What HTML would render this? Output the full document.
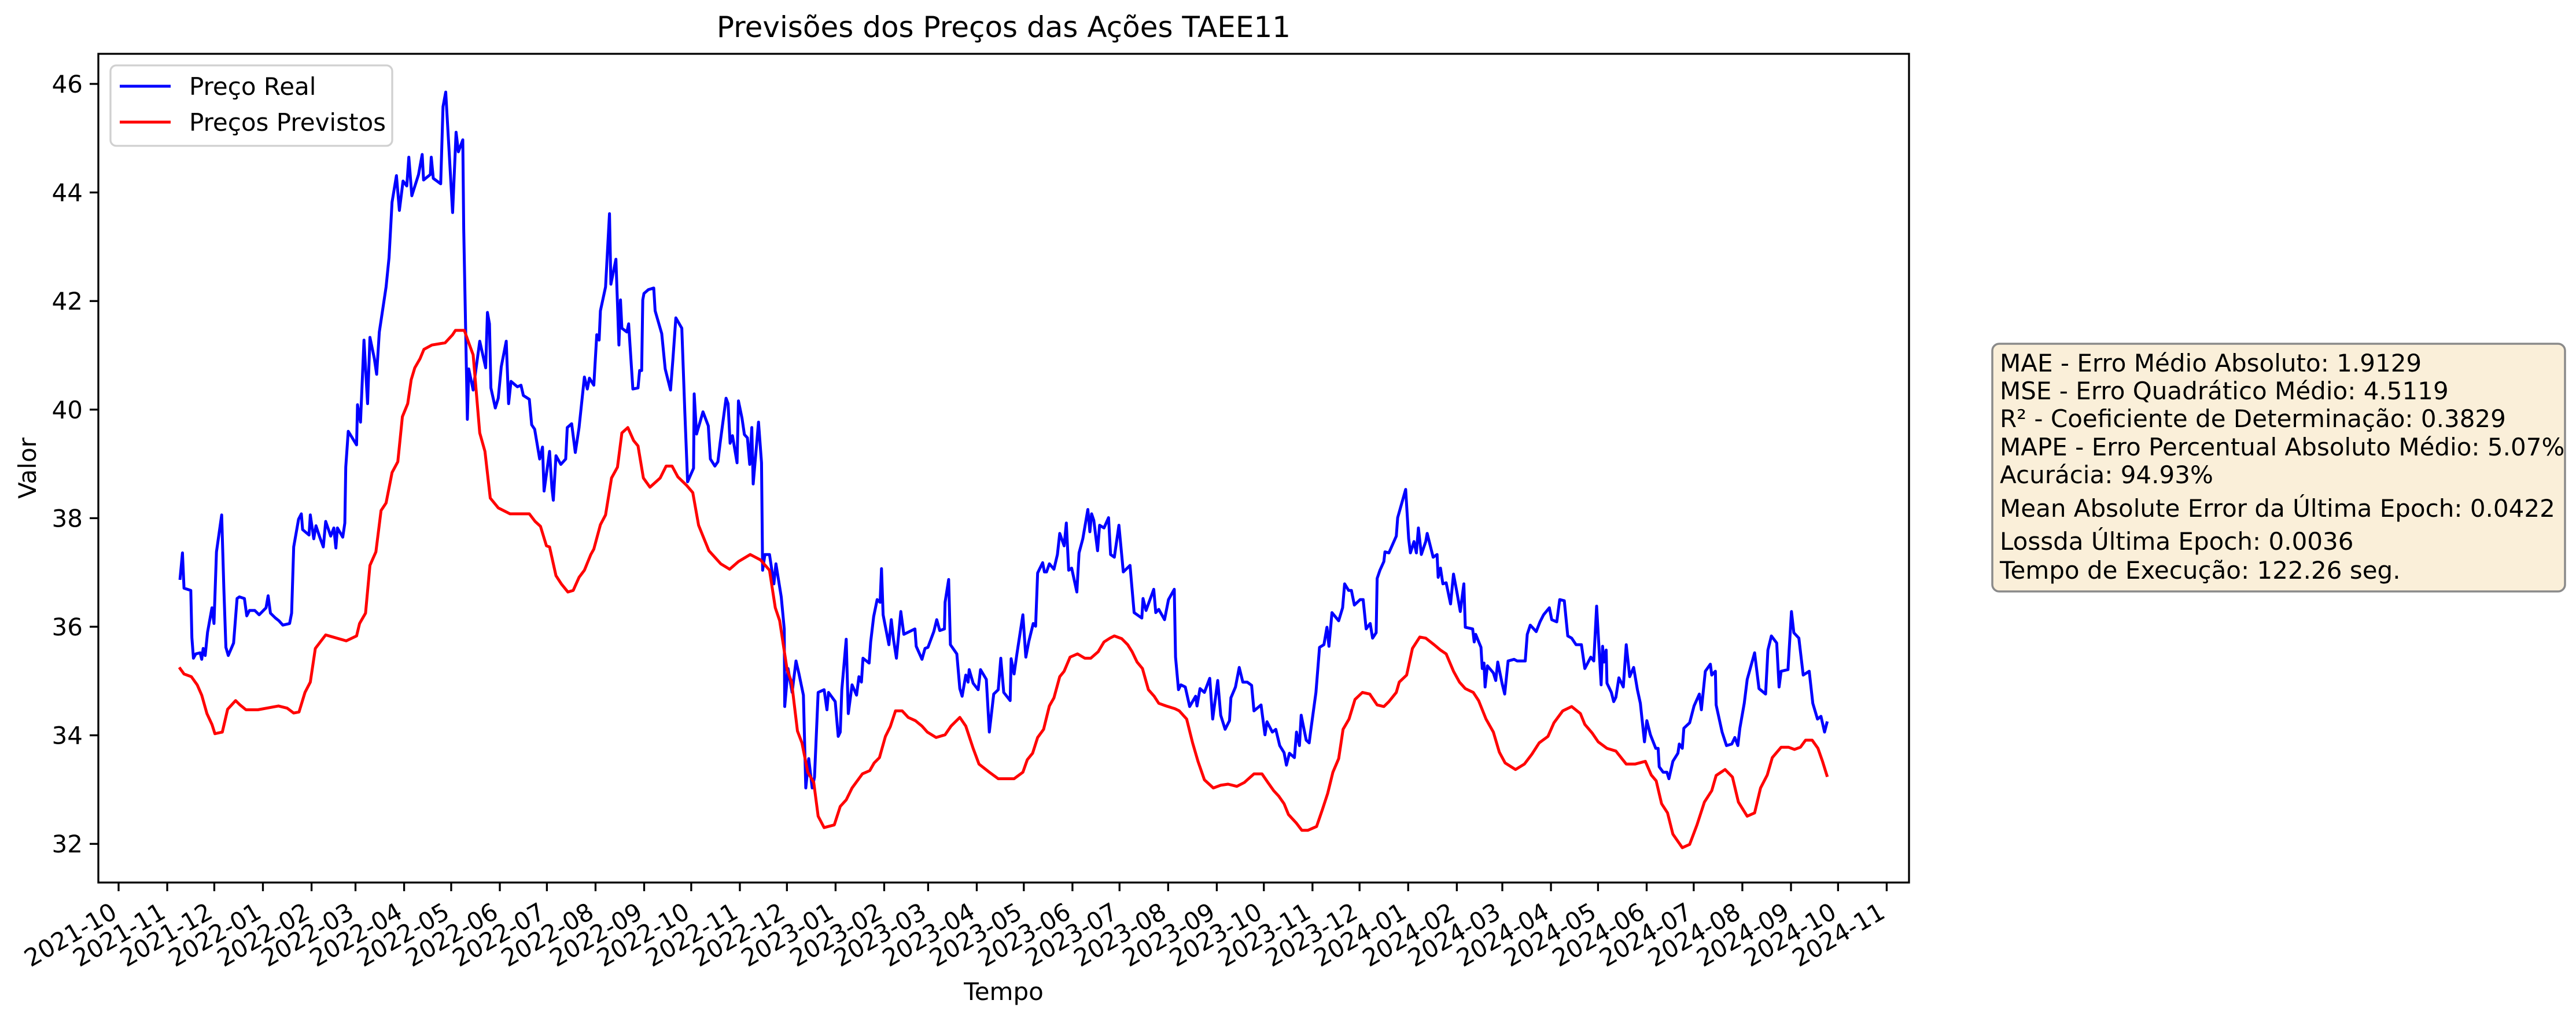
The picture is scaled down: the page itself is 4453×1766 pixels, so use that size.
<!DOCTYPE html>
<html><head><meta charset="utf-8"><style>
html,body{margin:0;padding:0;background:#fff;}
svg{display:block;font-family:"DejaVu Sans","Liberation Sans",sans-serif;}
</style></head><body>
<svg id="chart" xmlns="http://www.w3.org/2000/svg" width="4453" height="1766" viewBox="0 0 4453 1766">
<rect x="0" y="0" width="4453" height="1766" fill="#fff"/>
<text x="1735" y="64" font-size="50" text-anchor="middle">Previsões dos Preços das Ações TAEE11</text>
<g id="plot"></g>
<rect x="170" y="93" width="3130" height="1432" fill="none" stroke="#000" stroke-width="3.3"/>
<g id="yticks"></g>
<g id="xticks"></g>
<text x="1735" y="1728" font-size="42" text-anchor="middle">Tempo</text>
<text x="0" y="0" font-size="42" text-anchor="middle" transform="translate(62,809) rotate(-90)">Valor</text>
<g>
<rect x="191" y="113" width="487" height="139" rx="10" fill="#fff" fill-opacity="0.8" stroke="#d0d0d0" stroke-width="3.3"/>
<line x1="207" y1="149" x2="295" y2="149" stroke="#0000ff" stroke-width="5"/>
<text x="327" y="164" font-size="42">Preço Real</text>
<line x1="207" y1="211" x2="295" y2="211" stroke="#ff0000" stroke-width="5"/>
<text x="327" y="226" font-size="42">Preços Previstos</text>
</g>
<g font-size="42">
<rect x="3444" y="594" width="990" height="428" rx="12" fill="#faefd9" stroke="#8a8a8a" stroke-width="3.5"/>
<text x="3457" y="642">MAE - Erro Médio Absoluto: 1.9129</text>
<text x="3457" y="690">MSE - Erro Quadrático Médio: 4.5119</text>
<text x="3457" y="738">R² - Coeficiente de Determinação: 0.3829</text>
<text x="3457" y="787">MAPE - Erro Percentual Absoluto Médio: 5.07%</text>
<text x="3457" y="835">Acurácia: 94.93%</text>
<text x="3457" y="893">Mean Absolute Error da Última Epoch: 0.0422</text>
<text x="3457" y="950">Lossda Última Epoch: 0.0036</text>
<text x="3457" y="1000">Tempo de Execução: 122.26 seg.</text>
</g>
</svg>
<script>
// Day offsets are days since 2021-10-01
const baseDate = "2021-10-01";
const monthLabels = ["2021-10","2021-11","2021-12","2022-01","2022-02","2022-03","2022-04","2022-05","2022-06","2022-07","2022-08","2022-09","2022-10","2022-11","2022-12","2023-01","2023-02","2023-03","2023-04","2023-05","2023-06","2023-07","2023-08","2023-09","2023-10","2023-11","2023-12","2024-01","2024-02","2024-03","2024-04","2024-05","2024-06","2024-07","2024-08","2024-09","2024-10","2024-11"];
const yTickValues = [32,34,36,38,40,42,44,46];
const realDays = [39.2,40.7,41.7,46.0,46.7,47.7,49.2,52.0,53.0,53.9,55.2,56.7,59.5,60.8,62.4,65.7,67.1,68.4,69.9,73.3,75.5,77.0,80.2,81.7,83.4,86.8,89.6,94.0,95.3,96.8,100.0,102.2,104.7,109.0,110.3,111.6,114.7,116.5,117.3,121.4,122.2,124.4,125.8,128.2,130.5,132.0,135.2,137.2,138.5,139.5,142.9,144.2,144.8,146.4,151.7,152.3,154.2,156.4,158.7,160.2,163.0,164.5,166.2,167.7,170.5,172.4,174.3,177.1,179.0,181.3,183.7,185.0,186.9,191.2,193.5,194.4,198.7,199.3,200.6,205.3,206.8,208.5,212.9,215.1,216.6,219.4,220.0,222.3,223.2,226.0,230.2,234.0,235.1,236.4,237.3,240.1,242.0,243.9,247.1,248.6,250.1,254.2,256.5,258.0,261.8,263.3,265.2,268.4,270.2,271.2,
274.7,276.2,277.1,278.8,281.9,285.0,286.0,288.8,291.1,293.5,296.9,298.8,300.1,302.9,304.8,306.3,307.1,310.4,312.9,313.8,317.0,318.9,319.9,320.8,324.0,325.1,327.8,331.1,332.1,333.4,334.1,334.9,337.7,341.1,342.0,346.2,348.4,351.8,353.3,355.2,359.0,360.9,362.7,366.5,366.9,368.4,372.5,375.9,377.2,380.1,382.0,383.4,387.2,388.5,389.8,391.3,394.2,395.1,397.4,398.9,400.8,402.3,403.6,404.5,407.9,409.8,410.5,412.0,414.9,417.7,419.0,422.4,424.3,424.6,426.7,429.3,431.8,433.7,436.5,438.0,439.9,442.1,443.6,445.9,449.7,451.5,452.5,456.8,458.7,460.0,461.0,463.8,465.1,467.5,470.4,471.9,473.5,474.5,478.4,479.4,481.3,483.5,485.4,486.3,487.3,491.0,492.5,493.9,495.8,498.6,500.5,507.6,508.4,512.1,514.0,515.9,519.6,521.5,523.4,526.4,526.8,529.1,530.2,534.3,536.2,537.7,540.0,541.5,542.2,544.7,547.9,549.4,553.1,555.0,557.8,560.7,
562.3,564.2,568.3,568.9,570.8,572.6,576.4,578.3,580.2,583.0,584.5,585.8,589.0,590.1,591.5,593.3,596.2,598.4,599.9,602.7,604.1,605.6,607.5,610.8,612.2,614.6,617.8,619.1,620.2,621.6,624.0,625.3,628.1,631.0,632.3,634.7,637.6,640.4,644.7,647.3,652.2,653.0,654.9,659.8,661.1,663.0,666.7,669.2,672.9,673.7,675.6,677.1,679.9,682.7,686.5,687.4,689.3,692.1,695.5,697.4,700.6,702.5,705.3,708.1,709.0,711.9,714.3,716.6,719.4,722.2,723.7,728.2,730.7,732.0,735.4,737.6,740.1,742.9,744.4,746.3,749.5,750.8,752.7,753.8,757.0,758.9,759.8,763.2,765.5,768.3,770.2,771.5,773.4,777.7,780.2,781.5,784.0,785.8,787.7,791.4,793.3,795.2,797.8,799.3,801.6,802.2,804.0,806.5,807.2,809.7,814.4,815.3,820.4,822.3,823.4,825.7,827.2,828.5,830.4,833.2,834.1,837.9,840.4,841.1,842.6,844.1,
846.2,849.0,850.9,853.3,855.2,857.5,858.4,863.1,864.1,865.0,868.4,869.2,870.3,871.0,872.5,876.3,877.8,879.1,881.9,883.5,885.7,889.5,891.4,896.6,897.9,899.8,903.6,906.0,908.3,912.0,913.5,916.7,918.6,921.5,923.7,926.2,929.0,932.4,934.6,938.4,940.3,942.1,945.0,945.9,946.8,948.2,948.7,951.5,953.0,954.4,956.3,959.1,961.0,963.2,965.7,968.1,970.0,972.6,974.1,976.4,979.8,981.3,982.0,984.5,986.9,988.2,990.7,993.9,994.8,996.7,997.7,1001.4,1004.2,1007.6,1008.9,1011.4,1014.6,1015.5,1017.8,1018.3,1022.1,1024.9,1028.3,1030.2,1032.1,1033.4,1036.2,1038.1,1042.8,1045.6,1049.8,1051.3,1053.5,1056.9,1058.4,1059.7,1064.1,1066.3,1067.8,1071.0,1073.8,1077.6,1079.9,1082.9,1085.1,1087.4,1088.9];
const realValues = [36.89,37.36,36.71,36.67,35.8,35.42,35.5,35.52,35.4,35.6,35.47,35.9,36.35,36.06,37.38,38.06,36.69,35.62,35.47,35.7,36.52,36.55,36.52,36.2,36.3,36.3,36.22,36.35,36.57,36.25,36.16,36.11,36.03,36.06,36.25,37.47,37.98,38.08,37.79,37.69,38.06,37.62,37.86,37.65,37.47,37.94,37.67,37.82,37.45,37.82,37.65,37.91,38.94,39.6,39.35,40.09,39.77,41.28,40.11,41.33,40.94,40.65,41.43,41.72,42.26,42.8,43.82,44.31,43.67,44.21,44.12,44.65,43.94,44.33,44.7,44.23,44.33,44.65,44.26,44.16,45.58,45.85,43.63,45.11,44.75,44.97,43.33,39.82,40.75,40.36,41.26,40.77,41.79,41.58,40.4,40.03,40.21,40.79,41.26,40.11,40.52,40.42,40.45,40.26,40.19,39.72,39.64,39.09,39.31,38.5,
39.23,38.55,38.33,39.15,38.99,39.09,39.67,39.74,39.21,39.67,40.6,40.38,40.58,40.45,41.38,41.28,41.82,42.26,43.61,42.31,42.77,41.19,42.02,41.5,41.43,41.58,40.38,40.4,40.72,40.72,42.02,42.14,42.21,42.24,41.82,41.4,40.75,40.36,40.91,41.69,41.5,39.96,38.67,38.92,40.29,39.55,39.96,39.7,39.09,38.96,39.04,39.38,40.21,40.11,39.38,39.52,39.02,40.16,39.84,39.54,39.48,38.99,39.67,38.63,39.77,39.02,37.04,37.33,37.33,36.79,37.16,36.55,35.96,34.53,35.23,34.79,35.37,35.13,34.74,33.03,33.57,33.03,33.23,34.79,34.84,34.47,34.79,34.62,33.98,34.06,34.84,35.77,34.4,34.93,34.74,35.08,34.98,35.42,35.33,35.72,36.19,36.5,36.45,37.07,36.22,35.67,36.13,35.77,35.42,36.28,35.86,35.96,35.64,35.4,35.6,35.62,35.91,36.13,35.93,35.96,36.45,36.87,35.67,35.5,34.86,34.72,35.11,34.98,35.21,34.96,34.84,35.21,35.03,34.06,34.76,34.84,
35.42,34.79,34.64,35.41,35.13,35.5,36.22,35.44,35.73,36.06,36.01,36.99,37.18,37.01,37.01,37.16,37.06,37.33,37.72,37.49,37.91,37.04,37.08,36.64,37.36,37.62,38.16,37.75,38.08,37.96,37.4,37.87,37.82,38.01,37.33,37.28,37.87,37.01,37.13,36.26,36.16,36.52,36.3,36.69,36.26,36.32,36.13,36.5,36.69,35.44,34.84,34.93,34.89,34.53,34.72,34.54,34.86,34.79,35.05,34.3,35.01,34.37,34.11,34.27,34.69,34.89,35.25,34.98,34.98,34.92,34.45,34.56,34.01,34.25,34.06,34.11,33.81,33.68,33.45,33.67,33.59,34.06,33.81,34.37,33.91,33.86,34.07,34.79,35.62,35.67,35.99,35.64,36.26,36.11,36.35,36.79,36.67,36.67,36.4,36.5,36.5,35.96,36.06,35.79,35.89,36.89,37.04,37.2,37.38,37.36,37.67,38.01,38.53,37.62,37.36,37.57,37.36,37.82,37.33,37.57,37.72,37.28,37.33,36.91,37.08,36.79,
36.81,36.42,36.97,36.6,36.28,36.79,35.99,35.96,35.72,35.86,35.62,35.23,35.33,34.89,35.28,35.15,35.01,35.35,34.95,34.76,35.37,35.4,35.37,35.37,35.86,36.03,35.91,36.09,36.22,36.35,36.13,36.09,36.5,36.48,35.83,35.79,35.67,35.67,35.23,35.44,35.37,36.38,34.93,35.64,35.35,35.57,34.96,34.79,34.62,34.7,35.06,34.89,35.67,35.08,35.25,34.84,34.59,33.88,34.27,34.01,33.76,33.76,33.42,33.32,33.32,33.2,33.52,33.67,33.84,33.76,34.13,34.23,34.54,34.76,34.47,35.18,35.31,35.11,35.18,34.56,34.06,33.81,33.84,33.96,33.81,34.13,34.59,35.03,35.52,34.86,34.76,35.57,35.83,35.7,34.89,35.18,35.21,36.28,35.89,35.79,35.11,35.18,34.59,34.3,34.35,34.06,34.23];
const predDays = [39.2,41.7,46.4,50.1,53.0,56.3,59.5,61.4,66.1,69.5,74.6,77.4,81.2,88.7,101.9,107.5,111.6,115.0,118.8,122.2,125.4,129.1,132.0,136.7,145.1,151.7,153.6,157.4,160.2,164.0,167.3,170.5,174.3,178.0,180.9,184.3,186.5,188.8,192.2,194.6,199.7,208.1,212.9,214.7,220.4,223.2,226.0,230.2,233.5,236.9,242.0,249.5,261.8,265.5,268.9,272.7,
274.7,278.8,282.2,286.4,289.8,293.5,296.9,301.0,302.9,307.1,310.4,314.2,318.0,320.8,324.6,328.3,331.1,334.5,338.7,345.2,349.0,352.8,356.5,362.2,366.0,369.7,372.5,376.3,383.8,389.5,395.1,402.6,409.2,414.9,418.6,421.4,426.1,429.0,432.7,435.6,439.3,443.1,445.9,449.7,456.2,460.0,463.8,467.5,474.1,478.8,481.6,485.0,488.8,491.9,495.2,499.5,503.3,507.9,512.1,515.5,521.1,526.8,530.6,536.2,540.0,544.7,548.4,555.0,560.7,
562.3,570.8,576.4,579.2,582.6,585.8,589.6,593.3,596.2,599.9,602.7,606.5,611.2,615.9,619.7,624.4,628.1,631.9,634.7,639.4,643.2,646.0,649.2,652.6,656.4,660.1,663.0,667.7,673.3,676.1,680.8,684.6,688.0,692.1,697.8,702.5,707.2,712.8,717.5,723.7,728.8,732.6,736.3,739.5,742.9,745.7,750.8,754.2,758.0,763.6,767.4,770.7,774.0,777.7,780.5,784.3,788.1,792.8,797.5,802.2,806.5,809.7,814.4,816.3,821.0,824.7,829.4,833.2,838.5,842.6,
846.2,850.9,854.7,858.4,863.5,866.9,871.6,876.3,880.1,883.8,890.4,896.1,900.8,905.5,911.1,914.9,920.5,926.2,931.8,934.6,939.3,943.1,948.7,954.4,961.0,966.6,973.2,976.9,980.1,983.5,987.3,990.7,996.7,1001.4,1006.1,1010.8,1015.5,1018.3,1024.0,1028.7,1032.5,1038.1,1042.8,1046.6,1050.9,1054.1,1059.7,1064.4,1068.2,1072.0,1075.3,1079.5,1083.2,1086.1,1088.9];
const predValues = [35.23,35.13,35.08,34.93,34.74,34.4,34.2,34.03,34.06,34.48,34.64,34.56,34.47,34.47,34.54,34.5,34.41,34.43,34.79,34.98,35.6,35.74,35.85,35.81,35.74,35.83,36.06,36.25,37.13,37.38,38.14,38.28,38.84,39.04,39.87,40.11,40.55,40.77,40.94,41.11,41.19,41.23,41.38,41.46,41.46,41.23,41.01,39.57,39.23,38.37,38.19,38.08,38.08,37.94,37.85,37.49,
37.47,36.94,36.79,36.64,36.67,36.91,37.04,37.33,37.43,37.88,38.06,38.74,38.94,39.57,39.67,39.43,39.33,38.74,38.57,38.74,38.96,38.96,38.76,38.6,38.47,37.87,37.67,37.4,37.16,37.06,37.2,37.33,37.23,37.04,36.35,36.11,35.21,34.98,34.08,33.86,33.32,33.13,32.51,32.3,32.35,32.69,32.81,33.03,33.29,33.35,33.49,33.59,33.98,34.16,34.45,34.45,34.33,34.27,34.17,34.06,33.96,34.01,34.17,34.33,34.17,33.76,33.47,33.32,33.2,
33.2,33.2,33.32,33.55,33.67,33.96,34.11,34.54,34.69,35.08,35.18,35.44,35.5,35.42,35.42,35.54,35.72,35.79,35.83,35.78,35.67,35.54,35.35,35.23,34.84,34.72,34.59,34.54,34.49,34.45,34.3,33.86,33.52,33.18,33.03,33.08,33.1,33.06,33.13,33.29,33.29,33.13,32.98,32.88,32.74,32.54,32.38,32.25,32.25,32.32,32.64,32.93,33.32,33.57,34.11,34.3,34.66,34.79,34.76,34.56,34.53,34.62,34.79,34.98,35.11,35.6,35.81,35.79,35.67,35.57,
35.5,35.18,34.98,34.86,34.79,34.64,34.3,34.06,33.69,33.49,33.37,33.47,33.65,33.86,33.98,34.23,34.45,34.53,34.4,34.2,34.04,33.88,33.76,33.71,33.47,33.47,33.52,33.27,33.16,32.74,32.57,32.18,31.93,31.99,32.35,32.77,32.98,33.26,33.37,33.23,32.77,32.51,32.57,33.03,33.27,33.59,33.78,33.78,33.74,33.78,33.91,33.91,33.76,33.52,33.26];

const NS = "http://www.w3.org/2000/svg";
const X0 = 205, PX_PER_DAY = 2.712, Y_REF = 46, Y_REF_PX = 145, PX_PER_UNIT = 93.8;
function xScale(d){ return X0 + d * PX_PER_DAY; }
function yScale(v){ return Y_REF_PX + (Y_REF - v) * PX_PER_UNIT; }
function daysFromBase(label){
  const b = new Date(baseDate + "T00:00:00Z"), t = new Date(label + "-01T00:00:00Z");
  return (t - b) / 86400000;
}
const plot = document.getElementById("plot");
function drawLine(days, vals, color, name){
  let d = "";
  for (let i = 0; i < days.length; i++) d += (i ? "L" : "M") + xScale(days[i]).toFixed(1) + " " + yScale(vals[i]).toFixed(1);
  const p = document.createElementNS(NS, "path");
  p.setAttribute("d", d);
  p.setAttribute("fill", "none");
  p.setAttribute("stroke", color);
  p.setAttribute("stroke-width", "5");
  p.setAttribute("stroke-linejoin", "round");
  p.setAttribute("stroke-linecap", "square");
  
  
  plot.appendChild(p);
}
drawLine(realDays, realValues, "#0000ff", "real-price-line");
drawLine(predDays, predValues, "#ff0000", "predicted-price-line");

const yg = document.getElementById("yticks");
yTickValues.forEach(v => {
  const y = yScale(v);
  const t = document.createElementNS(NS, "line");
  t.setAttribute("x1", 155); t.setAttribute("x2", 170);
  t.setAttribute("y1", y); t.setAttribute("y2", y);
  t.setAttribute("stroke", "#000"); t.setAttribute("stroke-width", "3.3");
  
  
  yg.appendChild(t);
  const tx = document.createElementNS(NS, "text");
  tx.setAttribute("x", 143); tx.setAttribute("y", y + 15);
  tx.setAttribute("font-size", "42"); tx.setAttribute("text-anchor", "end");
  tx.textContent = v;
  
  
  yg.appendChild(tx);
});
const xg = document.getElementById("xticks");
monthLabels.forEach(m => {
  const x = xScale(daysFromBase(m));
  const t = document.createElementNS(NS, "line");
  t.setAttribute("x1", x); t.setAttribute("x2", x);
  t.setAttribute("y1", 1525); t.setAttribute("y2", 1540);
  t.setAttribute("stroke", "#000"); t.setAttribute("stroke-width", "3.3");
  
  
  xg.appendChild(t);
  const tx = document.createElementNS(NS, "text");
  tx.setAttribute("x", x); tx.setAttribute("y", 1584);
  tx.setAttribute("font-size", "42"); tx.setAttribute("text-anchor", "end");
  tx.setAttribute("transform", "rotate(-30 " + x + " 1584)");
  tx.textContent = m;
  
  
  xg.appendChild(tx);
});
</script>
</body></html>
